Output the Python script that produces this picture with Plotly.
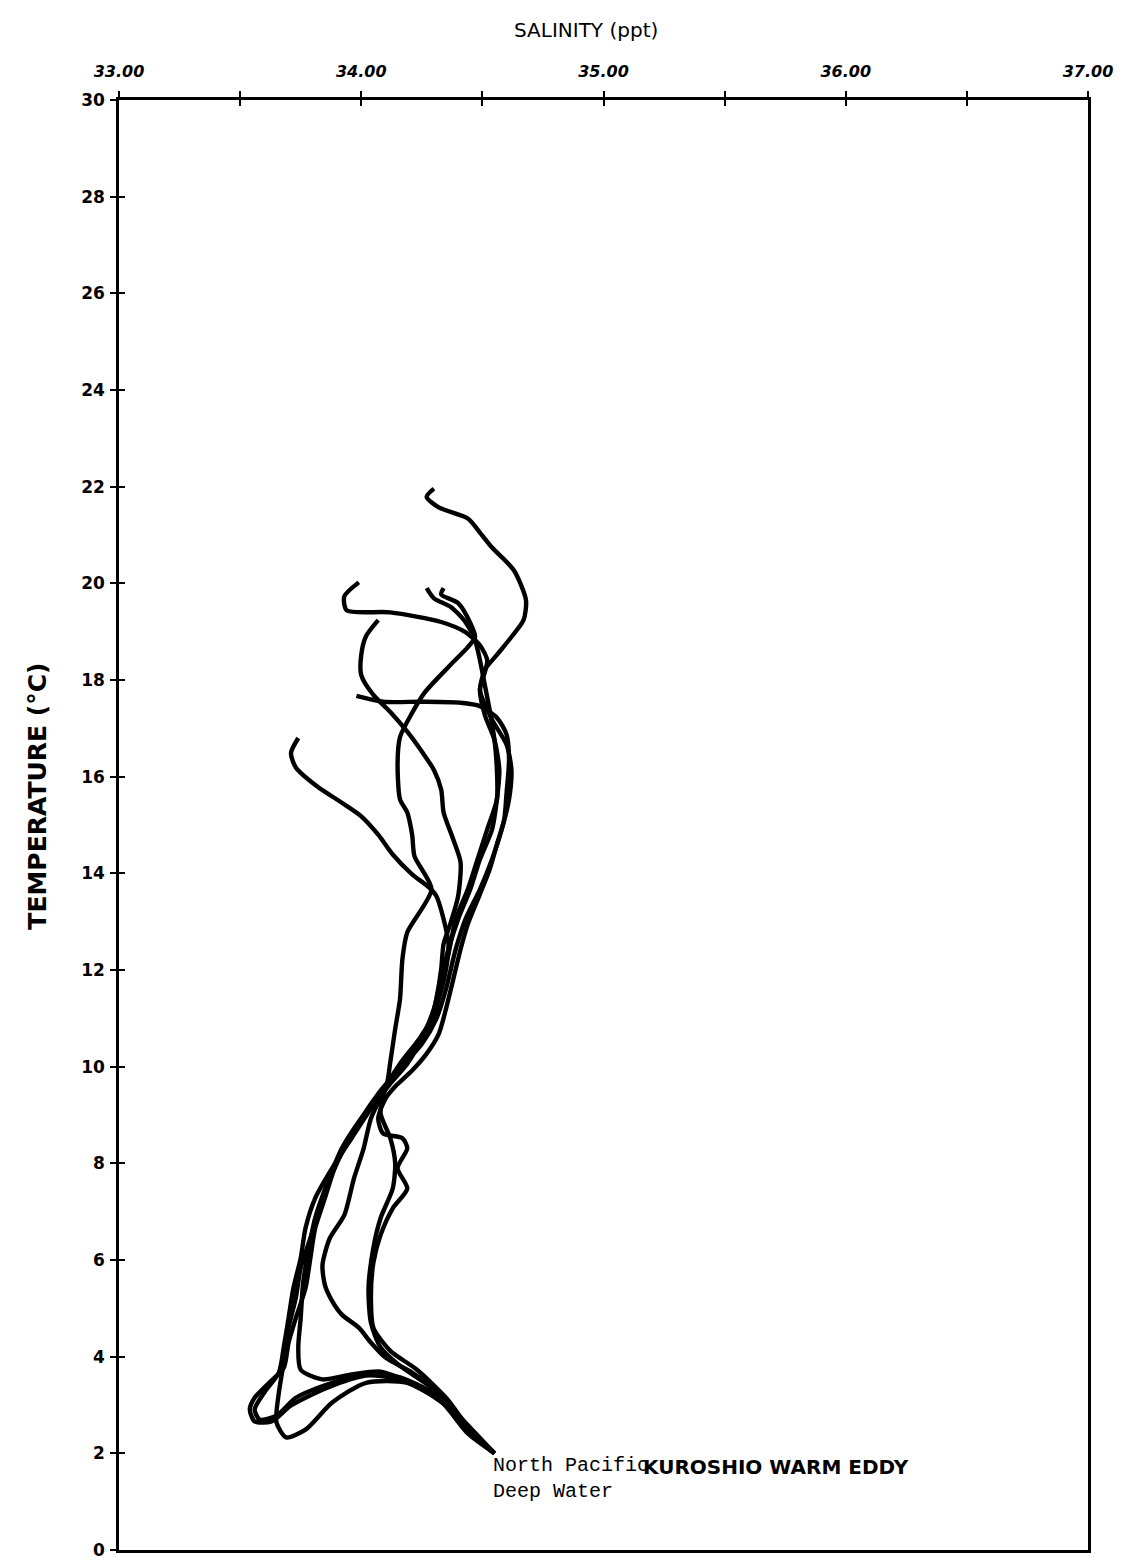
import plotly.graph_objects as go

# Salinity (ppt) / Temperature (degC) profiles
s_a = [34.30,34.27,34.32,34.44,34.49,34.54,34.63,34.68,34.67,34.62,34.56,34.51,34.49,34.51,34.55,34.57,34.56,34.54,34.49,34.45,34.40,34.36,34.33,34.30,34.25,34.19,34.12,34.04,33.96,33.88,33.81,33.77,33.75,33.72,33.70,33.68,33.66,33.60,33.56,33.58,33.65,33.73,33.88,34.04,34.16,34.33,34.45,34.55]
t_a = [21.96,21.79,21.57,21.34,21.05,20.74,20.27,19.65,19.24,18.89,18.52,18.21,17.79,17.28,16.76,16.14,15.53,14.91,14.29,13.67,13.05,12.43,11.81,11.20,10.58,10.06,9.65,9.13,8.52,7.90,7.28,6.66,6.04,5.42,4.80,4.19,3.67,3.26,2.91,2.70,2.78,3.15,3.46,3.67,3.57,3.15,2.43,2.00]

s_b = [33.99,33.93,33.94,34.12,34.33,34.43,34.49,34.52,34.51,34.49,34.54,34.60,34.62,34.61,34.58,34.54,34.49,34.43,34.39,34.35,34.31,34.25,34.16,34.10,34.02,33.94,33.88,33.83,33.79,33.75,33.73,33.70,33.68,33.66,33.65,33.69,33.77,33.88,34.02,34.19,34.35,34.46,34.55]
t_b = [20.02,19.73,19.44,19.40,19.20,18.99,18.72,18.41,18.16,17.79,17.18,16.66,16.14,15.53,14.91,14.29,13.67,13.05,12.43,11.61,10.99,10.47,9.96,9.55,9.03,8.41,7.79,7.07,6.45,5.84,5.22,4.60,3.88,3.26,2.64,2.33,2.49,3.05,3.46,3.46,2.99,2.37,2.00]

s_c = [34.27,34.30,34.37,34.43,34.47,34.49,34.51,34.53,34.55,34.56,34.56,34.52,34.48,34.44,34.39,34.36,34.33,34.30,34.24,34.16,34.10,34.08,34.12,34.14,34.13,34.08,34.05,34.03,34.04,34.08,34.16,34.29,34.41,34.55]
t_c = [19.90,19.69,19.51,19.20,18.82,18.41,17.90,17.38,16.76,16.14,15.53,14.91,14.29,13.67,13.05,12.33,11.71,11.09,10.58,10.06,9.55,9.03,8.52,8.00,7.48,6.87,6.25,5.42,4.70,4.19,3.81,3.36,2.74,2.00]

s_d = [34.34,34.33,34.40,34.45,34.47,34.44,34.36,34.26,34.21,34.16,34.15,34.16,34.19,34.21,34.22,34.29,34.19,34.17,34.16,34.14,34.12,34.10,34.00,33.92,33.86,33.81,33.78,33.76,33.75,33.74,33.75,33.84,33.96,34.08,34.23,34.37,34.47,34.55]
t_d = [19.90,19.77,19.59,19.18,18.89,18.68,18.27,17.73,17.32,16.82,16.29,15.53,15.26,14.80,14.35,13.67,12.78,12.23,11.40,10.78,10.10,9.55,8.93,8.31,7.59,6.87,6.14,5.53,4.80,4.19,3.73,3.53,3.63,3.69,3.40,2.91,2.33,2.00]

s_e = [34.07,34.02,34.00,34.00,34.05,34.12,34.19,34.25,34.30,34.33,34.34,34.38,34.41,34.40,34.37,34.34,34.33,34.31,34.28,34.21,34.14,34.09,34.04,34.01,33.97,33.93,33.87,33.84,33.85,33.88,33.92,33.99,34.04,34.10,34.21,34.33,34.44,34.55]
t_e = [19.24,18.91,18.52,18.10,17.69,17.34,16.93,16.52,16.14,15.73,15.26,14.70,14.23,13.53,12.99,12.54,12.02,11.40,10.78,10.33,9.86,9.44,8.93,8.31,7.69,6.93,6.45,5.90,5.48,5.15,4.87,4.60,4.29,3.98,3.67,3.20,2.49,2.00]

s_f = [33.98,34.09,34.25,34.41,34.49,34.56,34.60,34.61,34.60,34.59,34.56,34.53,34.49,34.44,34.41,34.38,34.35,34.32,34.27,34.21,34.14,34.10,34.07,34.09,34.17,34.19,34.15,34.19,34.13,34.08,34.05,34.04,34.05,34.12,34.23,34.35,34.45,34.55]
t_f = [17.67,17.55,17.55,17.53,17.46,17.22,16.87,16.35,15.67,15.11,14.60,14.08,13.57,12.95,12.43,11.81,11.20,10.68,10.27,9.92,9.59,9.34,8.93,8.62,8.52,8.31,7.90,7.48,7.07,6.52,5.94,5.22,4.60,4.12,3.73,3.15,2.49,2.00]

s_g = [33.74,33.71,33.73,33.82,33.92,34.00,34.07,34.13,34.21,34.28,34.31,34.34,34.36,34.35,34.32,34.28,34.21,34.14,34.07,34.00,33.94,33.89,33.85,33.81,33.79,33.77,33.73,33.70,33.68,33.62,33.56,33.54,33.56,33.63,33.71,33.86,34.02,34.16,34.33,34.44,34.55]
t_g = [16.80,16.49,16.19,15.79,15.46,15.18,14.80,14.39,13.98,13.71,13.53,13.05,12.54,12.02,11.40,10.78,10.27,9.86,9.44,8.93,8.41,7.90,7.28,6.66,6.04,5.42,4.80,4.29,3.77,3.46,3.15,2.91,2.66,2.66,2.99,3.36,3.61,3.53,3.07,2.41,2.00]

profiles = [(s_a, t_a), (s_b, t_b), (s_c, t_c), (s_d, t_d), (s_e, t_e), (s_f, t_f), (s_g, t_g)]

x_tick_vals = [33, 34, 35, 36, 37]
x_tick_text = ["33.00", "34.00", "35.00", "36.00", "37.00"]
x_minor_vals = [33.5, 34.5, 35.5, 36.5]
y_tick_vals = list(range(0, 31, 2))

fig = go.Figure()
for s, t in profiles:
    fig.add_trace(go.Scatter(x=s, y=t, mode="lines",
                             line=dict(color="black", width=4.4, shape="spline", smoothing=0.7),
                             showlegend=False, hoverinfo="skip"))

# invisible trace for the overlaying tick axes
fig.add_trace(go.Scatter(x=[33], y=[0], xaxis="x2", yaxis="y2", mode="markers",
                         marker=dict(opacity=0), showlegend=False, hoverinfo="skip"))

tickfont = dict(family="DejaVu Sans", size=16, color="black", weight="bold", style="italic")

fig.update_layout(
    width=1143, height=1561,
    margin=dict(l=111, r=63, t=92, b=9),
    paper_bgcolor="white", plot_bgcolor="white",
    xaxis=dict(range=[33, 37], side="top", tickvals=x_tick_vals, ticktext=x_tick_text,
               ticks="outside", ticklen=6, tickwidth=2, tickcolor="black",
               minor=dict(tickvals=x_minor_vals, ticks="outside", ticklen=6, tickwidth=2, tickcolor="black"),
               showline=True, linewidth=2.5, linecolor="black", mirror=True,
               showgrid=False, zeroline=False, tickfont=tickfont, ticklabelstandoff=8),
    yaxis=dict(range=[0, 30], tickvals=y_tick_vals,
               ticks="outside", ticklen=6, tickwidth=2, tickcolor="black",
               showline=True, linewidth=2.5, linecolor="black", mirror=True,
               showgrid=False, zeroline=False,
               tickfont=dict(family="DejaVu Sans", size=17, color="black", weight="bold"),
               ticklabelstandoff=2),
    xaxis2=dict(range=[33, 37], overlaying="x", side="top", dtick=0.5, tick0=33,
                ticks="inside", ticklen=6, tickwidth=2, tickcolor="black",
                showticklabels=False, showgrid=False, zeroline=False, showline=False),
    yaxis2=dict(range=[0, 30], overlaying="y", dtick=2, tick0=0,
                ticks="inside", ticklen=6, tickwidth=2, tickcolor="black",
                showticklabels=False, showgrid=False, zeroline=False, showline=False),
)

fig.add_annotation(text="SALINITY (ppt)", xref="paper", yref="paper",
                   x=0.482, y=1.0, xanchor="center", yanchor="bottom", yshift=56, showarrow=False,
                   font=dict(family="DejaVu Sans", size=20, color="black"))
fig.add_annotation(text="TEMPERATURE (°C)", xref="paper", yref="paper",
                   x=-0.085, y=0.52, xanchor="center", yanchor="middle", textangle=-90, showarrow=False,
                   font=dict(family="DejaVu Sans", size=25, color="black", weight="bold"))
fig.add_annotation(text="North Pacific<br>Deep Water", x=34.56, y=1.97, xanchor="left", yanchor="top",
                   xshift=-6, yshift=3, showarrow=False, align="left",
                   font=dict(family="Liberation Mono", size=20, color="black"))
fig.add_annotation(text="KUROSHIO WARM EDDY", x=35.17, y=1.77, xanchor="left", yanchor="middle",
                   xshift=-4, yshift=-3, showarrow=False,
                   font=dict(family="DejaVu Sans", size=20, color="black", weight="bold"))

fig.write_html("out.html")
